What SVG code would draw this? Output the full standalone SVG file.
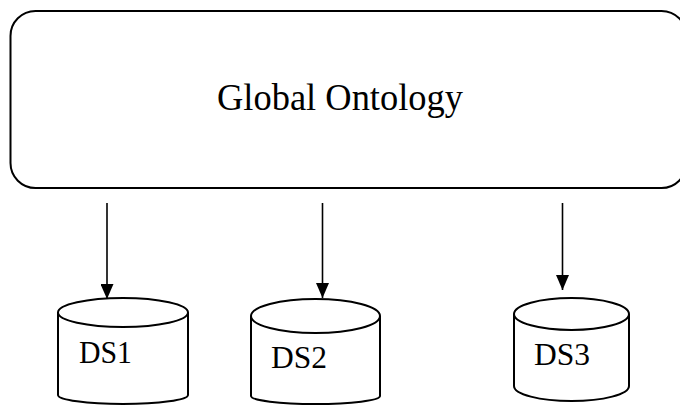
<svg xmlns="http://www.w3.org/2000/svg" width="680" height="406" viewBox="0 0 680 406">
  <style>
    .shape { fill: #ffffff; stroke: #000000; stroke-width: 2; }
    .edge { fill: none; stroke: #000000; stroke-width: 1.6; }
    .label { font-family: "Liberation Serif", "Times New Roman", serif; fill: #000000; }
  </style>
  <defs>
    <marker id="arrow" viewBox="0 0 15 13" refX="15" refY="6.5" markerWidth="15" markerHeight="13" markerUnits="userSpaceOnUse" orient="auto">
      <path d="M0,0 L15,6.5 L0,13 Z" fill="#000000"/>
    </marker>
  </defs>

  <rect width="680" height="406" fill="#ffffff"/>

  <!-- top-level ontology box -->
  <g id="global-ontology">
    <rect class="shape" x="10.5" y="11" width="676" height="177" rx="25" ry="25"/>
    <text class="label" x="217" y="110" font-size="38.5" textLength="246" lengthAdjust="spacingAndGlyphs">Global Ontology</text>
  </g>

  <!-- data source cylinders -->
  <g id="ds1">
    <path class="shape" d="M58,312.5 L58,395 A65,9 0 0 0 188,395 L188,312.5"/>
    <ellipse class="shape" cx="123" cy="312.5" rx="65" ry="14.5"/>
    <text class="label" x="79" y="363" font-size="32.5" textLength="53" lengthAdjust="spacingAndGlyphs">DS1</text>
  </g>

  <g id="ds2">
    <path class="shape" d="M251,316 L251,396 A64.5,8 0 0 0 380,396 L380,316"/>
    <ellipse class="shape" cx="315.5" cy="316" rx="64.5" ry="17"/>
    <text class="label" x="271" y="368" font-size="32.5" textLength="56" lengthAdjust="spacingAndGlyphs">DS2</text>
  </g>

  <g id="ds3">
    <path class="shape" d="M514,314 L514,386 A57.5,15 0 0 0 629,386 L629,314"/>
    <ellipse class="shape" cx="571.5" cy="314" rx="57.5" ry="16"/>
    <text class="label" x="534" y="365" font-size="32.5" textLength="56" lengthAdjust="spacingAndGlyphs">DS3</text>
  </g>

  <!-- connectors -->
  <g id="connectors">
    <line class="edge" x1="107" y1="203" x2="107" y2="299" marker-end="url(#arrow)"/>
    <line class="edge" x1="322.5" y1="203" x2="322.5" y2="298" marker-end="url(#arrow)"/>
    <line class="edge" x1="562.5" y1="203" x2="562.5" y2="290" marker-end="url(#arrow)"/>
  </g>
</svg>
